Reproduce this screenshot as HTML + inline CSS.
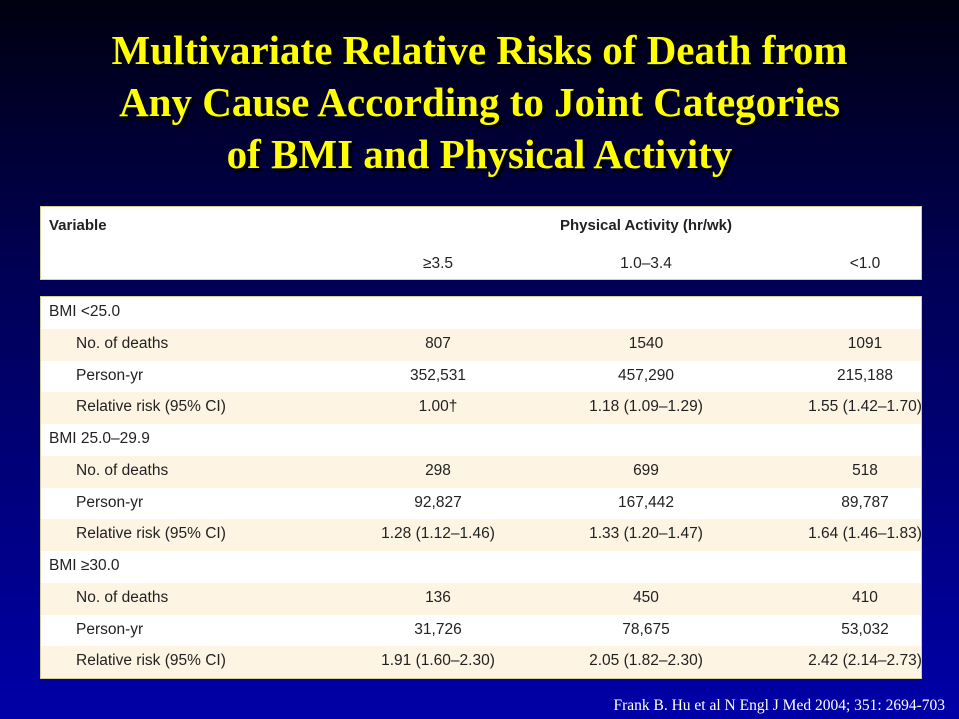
<!DOCTYPE html>
<html><head><meta charset="utf-8"><style>
body{margin:0;width:959px;height:719px;overflow:hidden;background:linear-gradient(#000010 0%,#000050 35%,#0000a8 100%);font-family:"Liberation Sans",sans-serif;position:relative}
#title{position:absolute;left:0;top:24px;width:959px;text-align:center;font-family:"Liberation Serif",serif;font-weight:bold;font-size:41px;line-height:52px;color:#ffff00;text-shadow:3px 3px 0 #000}
.box{position:absolute;left:40px;width:880px;background:#fff;border:1px solid #d8d090}
.t{position:absolute;font-size:15.5px;color:#222;white-space:nowrap}
.c{transform:translateX(-50%)}
.row{position:absolute;left:0;width:880px;height:32px}
#foot{position:absolute;right:14px;top:697px;font-family:"Liberation Serif",serif;font-size:15.5px;color:#fff}
</style></head><body>
<div id="title">Multivariate Relative Risks of Death from<br>Any Cause According to Joint Categories<br>of BMI and Physical Activity</div>
<div class="box" style="top:206px;height:72px">
<div class="t" style="left:8px;top:10px;font-weight:bold;font-size:15px">Variable</div>
<div class="t c" style="left:605px;top:10px;font-weight:bold;font-size:15px">Physical Activity (hr/wk)</div>
<div class="t c" style="left:397px;top:48px">≥3.5</div>
<div class="t c" style="left:605px;top:48px">1.0–3.4</div>
<div class="t c" style="left:824px;top:48px">&lt;1.0</div>
</div>
<div class="box" id="body" style="top:296px;height:381px"></div>
<div id="foot">Frank B. Hu et al N Engl J Med 2004; 351: 2694-703</div>
<script>
const groups=["BMI <25.0","BMI 25.0–29.9","BMI ≥30.0"];
const deaths=[["807","1540","1091"],["298","699","518"],["136","450","410"]];
const personYr=[["352,531","457,290","215,188"],["92,827","167,442","89,787"],["31,726","78,675","53,032"]];
const rr=[["1.00†","1.18 (1.09–1.29)","1.55 (1.42–1.70)"],["1.28 (1.12–1.46)","1.33 (1.20–1.47)","1.64 (1.46–1.83)"],["1.91 (1.60–2.30)","2.05 (1.82–2.30)","2.42 (2.14–2.73)"]];
const body=document.getElementById('body');
const cx=[397,605,824];const rh=381/12;let r=0;
function addRow(label,indent,vals,shade){
 const d=document.createElement('div');d.className='row';
 
 
 d.style.top=(r*rh)+'px';d.style.height=rh+'px';d.style.background=shade?'#fdf4e3':'#fff';
 const l=document.createElement('div');l.className='t';l.style.left=indent+'px';l.style.top='6px';l.textContent=label;
 
 
 d.appendChild(l);
 vals.forEach((v,i)=>{const c=document.createElement('div');c.className='t c';c.style.left=cx[i]+'px';c.style.top='6px';c.textContent=v;
 
 
 d.appendChild(c);});
 body.appendChild(d);r++;
}
groups.forEach((g,i)=>{addRow(g,8,[],false);addRow("No. of deaths",35,deaths[i],true);addRow("Person-yr",35,personYr[i],false);addRow("Relative risk (95% CI)",35,rr[i],true);});
</script>
</body></html>
